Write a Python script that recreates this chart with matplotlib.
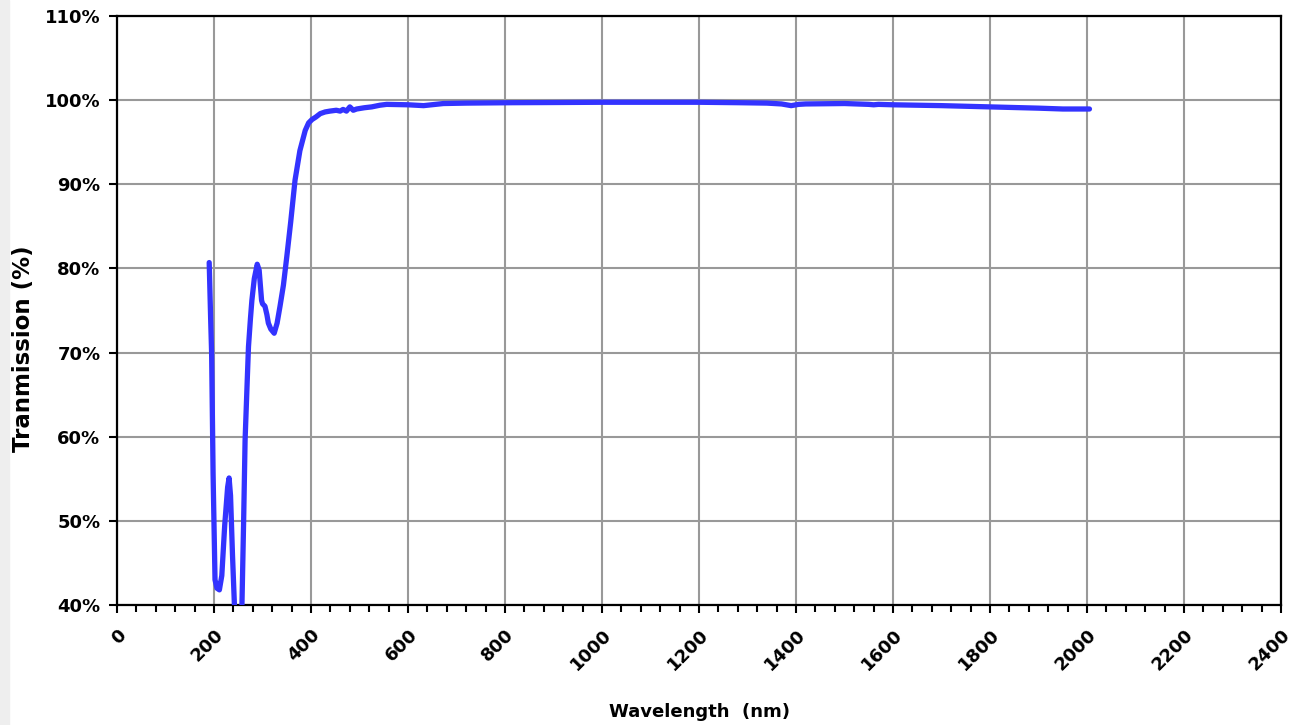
import matplotlib.pyplot as plt
from matplotlib.ticker import MultipleLocator, FuncFormatter

# transmission curve (nm, %)
wavelength = [190, 193, 195, 198, 202, 206, 211, 216, 222, 228, 231, 234, 238, 243,
              247, 252, 257, 261, 264, 268, 271, 275, 278, 283, 289, 293, 298, 300,
              305, 309, 312, 317, 324, 330, 336, 343, 350, 358, 367, 377, 388, 395,
              402, 410, 419, 429, 439, 452, 460, 466, 473, 480, 487, 494, 510, 525,
              542, 556, 600, 632, 673, 720, 817, 900, 1000, 1100, 1200, 1280, 1340,
              1370, 1390, 1405, 1420, 1500, 1550, 1560, 1570, 1600, 1700, 1800, 1900,
              1950, 2005]
transmission = [80.7, 74.0, 69.9, 55.6, 43.0, 42.0, 41.8, 43.5, 49.5, 54.0, 55.1, 53.0, 46.0, 38.5,
                36.5, 36.5, 38.5, 50.0, 59.6, 66.0, 70.7, 74.0, 76.2, 78.8, 80.5, 79.8, 76.2, 75.8,
                75.5, 74.5, 73.5, 72.8, 72.3, 73.5, 75.5, 78.0, 81.4, 85.5, 90.5, 94.0, 96.4, 97.3,
                97.7, 98.0, 98.4, 98.6, 98.7, 98.8, 98.7, 98.9, 98.7, 99.2, 98.8, 98.95, 99.1, 99.2,
                99.4, 99.5, 99.45, 99.35, 99.6, 99.65, 99.7, 99.72, 99.75, 99.75, 99.75, 99.7, 99.65,
                99.55, 99.35, 99.5, 99.55, 99.6, 99.5, 99.45, 99.5, 99.45, 99.35, 99.2, 99.05,
                98.95, 98.95]

x_ticks = list(range(0, 2401, 200))
y_ticks = list(range(40, 111, 10))

fig = plt.figure(figsize=(13.02, 7.25), dpi=100)
fig.patches.append(plt.Rectangle((0, 0), 0.007, 1, transform=fig.transFigure,
                                 color='#eeeeee', zorder=-1))
ax = fig.add_axes([0.0899, 0.1655, 0.894, 0.8124])

ax.plot(wavelength, transmission, color='#3333ff', lw=3.8, solid_capstyle='round',
        solid_joinstyle='round', zorder=3, clip_on=True)

ax.set_xlim(0, 2400)
ax.set_ylim(40, 110)
ax.set_xticks(x_ticks)
ax.set_yticks(y_ticks)
ax.xaxis.set_minor_locator(MultipleLocator(40))
ax.yaxis.set_major_formatter(FuncFormatter(lambda v, p: f'{v:.0f}%'))

ax.grid(True, which='major', color='#999999', lw=1.5)
ax.set_axisbelow(True)
for s in ax.spines.values():
    s.set_color('black')
    s.set_linewidth(1.6)

ax.tick_params(axis='both', which='major', direction='out', length=6, width=1.5,
               labelsize=13)
ax.tick_params(axis='y', which='major', pad=6)
ax.tick_params(axis='x', which='major', pad=9)
ax.tick_params(axis='x', which='minor', direction='out', length=5, width=1.5)
for lbl in ax.get_xticklabels():
    lbl.set_rotation(45)
    lbl.set_ha('right')
    lbl.set_va('top')
    lbl.set_rotation_mode('anchor')
    lbl.set_fontweight('bold')
for lbl in ax.get_yticklabels():
    lbl.set_fontweight('bold')

ax.set_xlabel('Wavelength  (nm)', fontsize=13, fontweight='bold', va='center')
ax.xaxis.set_label_coords(0.5, -0.182)
ax.set_ylabel('Tranmission (%)', fontsize=16.5, fontweight='bold', va='center')
ax.yaxis.set_label_coords(-0.08, 0.436)

fig.savefig('out.png', dpi=100)
